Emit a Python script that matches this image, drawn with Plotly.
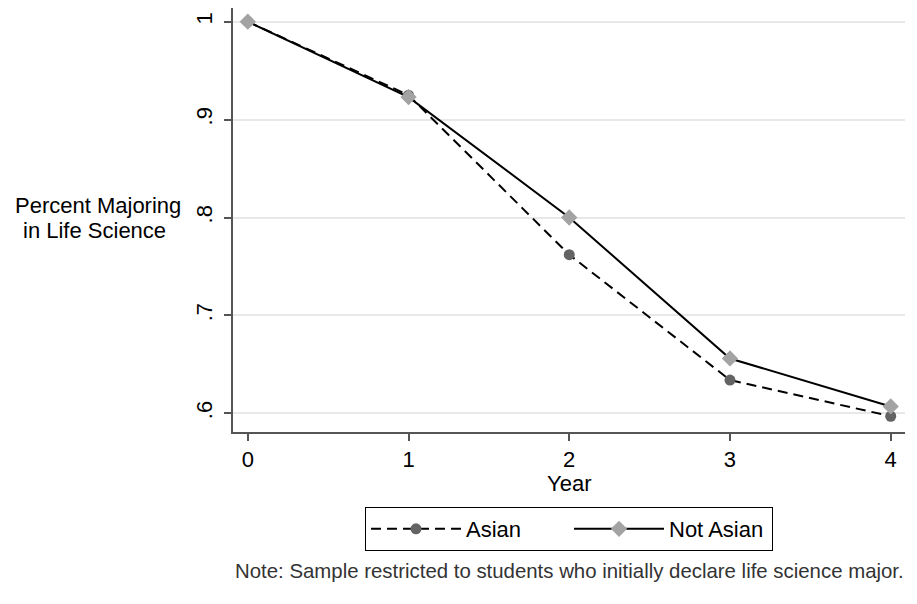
import plotly.graph_objects as go

years = [0, 1, 2, 3, 4]
asian = [1.0, 0.925, 0.762, 0.634, 0.597]
not_asian = [1.0, 0.923, 0.800, 0.656, 0.607]
y_ticks = [0.6, 0.7, 0.8, 0.9, 1.0]
y_tick_labels = [".6", ".7", ".8", ".9", "1"]
x_ticks = [0, 1, 2, 3, 4]

FONT = "Arial, Liberation Sans, sans-serif"

fig = go.Figure()
fig.add_trace(go.Scatter(
    x=years, y=asian, name="Asian", mode="lines+markers",
    line=dict(color="black", width=2, dash="10px,6px"),
    marker=dict(symbol="circle", size=11, color="#636363"),
))
fig.add_trace(go.Scatter(
    x=years, y=not_asian, name="Not Asian", mode="lines+markers",
    line=dict(color="black", width=2),
    marker=dict(symbol="diamond", size=12.5, color="#a3a3a3"),
))

fig.update_layout(
    width=917, height=604,
    margin=dict(l=225, r=20, t=0, b=180),
    paper_bgcolor="white", plot_bgcolor="white",
    font=dict(family=FONT, color="black"),
    showlegend=True,
    legend=dict(
        orientation="h", x=0.5, xanchor="center", y=-0.1769, yanchor="top",
        bordercolor="black", borderwidth=1, font=dict(size=22),
        itemwidth=90, traceorder="normal", entrywidth=98, entrywidthmode="pixels",
        bgcolor="white",
    ),
    xaxis=dict(
        range=[-0.092, 4.089], tickvals=x_ticks, ticktext=[str(v) for v in x_ticks],
        showgrid=False, zeroline=False, showline=True, linecolor="#555555", linewidth=1.5,
        ticks="outside", ticklen=7, tickcolor="#555555", tickwidth=1.5,
        tickfont=dict(size=22, family=FONT), automargin=False,
    ),
    yaxis=dict(
        range=[0.5809, 1.014], tickvals=y_ticks, ticktext=y_tick_labels,
        showgrid=True, gridcolor="#e8e8e8", gridwidth=2,
        zeroline=False, showline=True, linecolor="#555555", linewidth=1.5,
        ticks="outside", ticklen=7, tickcolor="#555555", tickwidth=1.5,
        tickangle=-90, tickfont=dict(size=22, family=FONT), automargin=False,
        ticklabelstandoff=3,
    ),
    annotations=[
        dict(text="Percent Majoring", xref="paper", yref="paper",
             x=-0.2009, y=0.5335, xanchor="center", yanchor="middle", showarrow=False,
             font=dict(size=22, family=FONT, color="black")),
        dict(text="in Life Science", xref="paper", yref="paper",
             x=-0.2054, y=0.4760, xanchor="center", yanchor="middle", showarrow=False,
             font=dict(size=22, family=FONT, color="black")),
        dict(text="Year", xref="paper", yref="paper", x=0.5, y=-0.1203,
             xanchor="center", yanchor="middle", showarrow=False,
             font=dict(size=22, family=FONT, color="black")),
        dict(text="Note: Sample restricted to students who initially declare life science major.",
             xref="paper", yref="paper", x=0.5, y=-0.3278, xanchor="center", yanchor="middle",
             showarrow=False, font=dict(size=20.4, family=FONT, color="#333333")),
    ],
)

fig.write_html("out.html")
